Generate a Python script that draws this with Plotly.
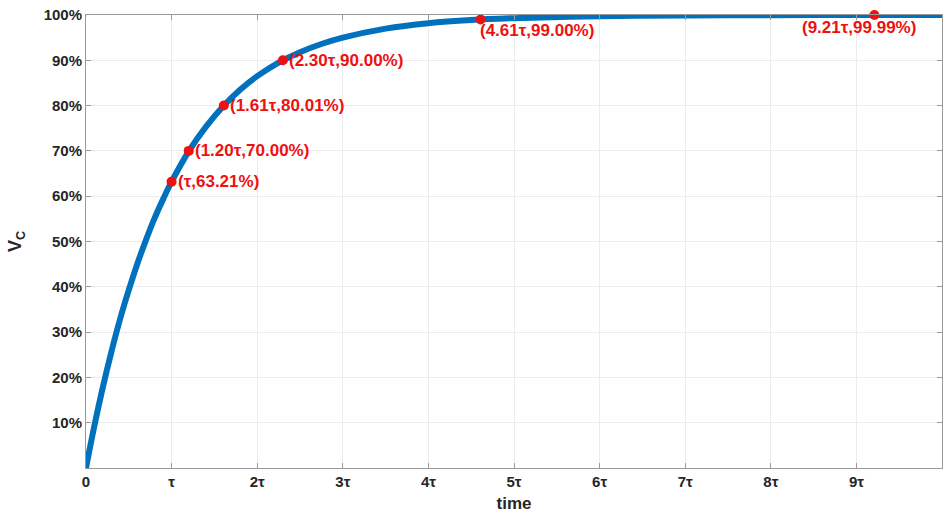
import plotly.graph_objects as go

# Charging curve (time in units of tau, V_C in %)
t_vals = [0, 0.1, 0.2, 0.3, 0.4, 0.5, 0.6, 0.7, 0.8, 0.9, 1.0, 1.2, 1.4, 1.6, 1.8, 2.0,
          2.25, 2.5, 2.75, 3.0, 3.5, 4.0, 4.5, 5.0, 6.0, 7.0, 8.0, 9.0, 10.0]
vc_vals = [0, 9.5, 18.1, 25.9, 33.0, 39.3, 45.1, 50.3, 55.1, 59.3, 63.2, 69.9, 75.3, 79.8,
           83.5, 86.5, 89.5, 91.8, 93.6, 95.0, 97.0, 98.2, 98.9, 99.3, 99.75, 99.9, 99.97,
           99.99, 100.0]

# Marked points
mark_t = [1.0, 1.20, 1.61, 2.30, 4.61, 9.21]
mark_v = [63.21, 70.00, 80.01, 90.00, 99.00, 99.99]
mark_labels = ["(τ,63.21%)", "(1.20τ,70.00%)", "(1.61τ,80.01%)", "(2.30τ,90.00%)",
               "(4.61τ,99.00%)", "(9.21τ,99.99%)"]

x_tickvals = [0, 1, 2, 3, 4, 5, 6, 7, 8, 9]
x_ticktext = ["0", "τ", "2τ", "3τ", "4τ", "5τ", "6τ", "7τ", "8τ", "9τ"]
y_tickvals = [10, 20, 30, 40, 50, 60, 70, 80, 90, 100]
y_ticktext = ["10%", "20%", "30%", "40%", "50%", "60%", "70%", "80%", "90%", "100%"]

FONT = "Liberation Sans"
RED = "#ee1111"

fig = go.Figure()
fig.add_trace(go.Scatter(x=t_vals, y=vc_vals, mode="lines",
                         line=dict(color="#0072BD", width=6, shape="spline"),
                         hoverinfo="skip", showlegend=False))
fig.add_trace(go.Scatter(x=mark_t, y=mark_v, mode="markers",
                         marker=dict(color=RED, size=10), showlegend=False, cliponaxis=False))

# label placement styles
placements = [
    dict(xanchor="left", yanchor="middle", xshift=4, yshift=0),
    dict(xanchor="left", yanchor="middle", xshift=4, yshift=0),
    dict(xanchor="left", yanchor="middle", xshift=4, yshift=0),
    dict(xanchor="left", yanchor="middle", xshift=4, yshift=0),
    dict(xanchor="left", yanchor="middle", xshift=-3, yshift=-11),
    dict(xanchor="center", yanchor="middle", xshift=-15, yshift=-12),
]
for tx, vy, lab, p in zip(mark_t, mark_v, mark_labels, placements):
    fig.add_annotation(x=tx, y=vy, xref="x", yref="y", text=lab, showarrow=False,
                       font=dict(family=FONT, size=17, color=RED, weight="bold"), **p)

axis_common = dict(showline=True, linecolor="#9a9a9a", linewidth=1, mirror="ticks",
                   ticks="inside", ticklen=5, tickcolor="#9a9a9a",
                   showgrid=True, gridcolor="#ececec", gridwidth=1, zeroline=False,
                   automargin=False,
                   tickfont=dict(family=FONT, size=15, color="#262626", weight="bold"))

fig.update_xaxes(range=[0, 10], tickvals=x_tickvals, ticktext=x_ticktext,
                 title=dict(text="time", standoff=9,
                            font=dict(family=FONT, size=17, color="#262626", weight="bold")),
                 **axis_common)
fig.update_yaxes(range=[0, 100], tickvals=y_tickvals, ticktext=y_ticktext,
                 title=dict(text="V<sub>C</sub>", standoff=17,
                            font=dict(family=FONT, size=18, color="#262626", weight="bold")),
                 **axis_common)

fig.update_layout(width=946, height=513, margin=dict(l=86, r=4, t=15, b=45),
                  paper_bgcolor="white", plot_bgcolor="white",
                  font=dict(family=FONT))

fig.write_html("out.html")
